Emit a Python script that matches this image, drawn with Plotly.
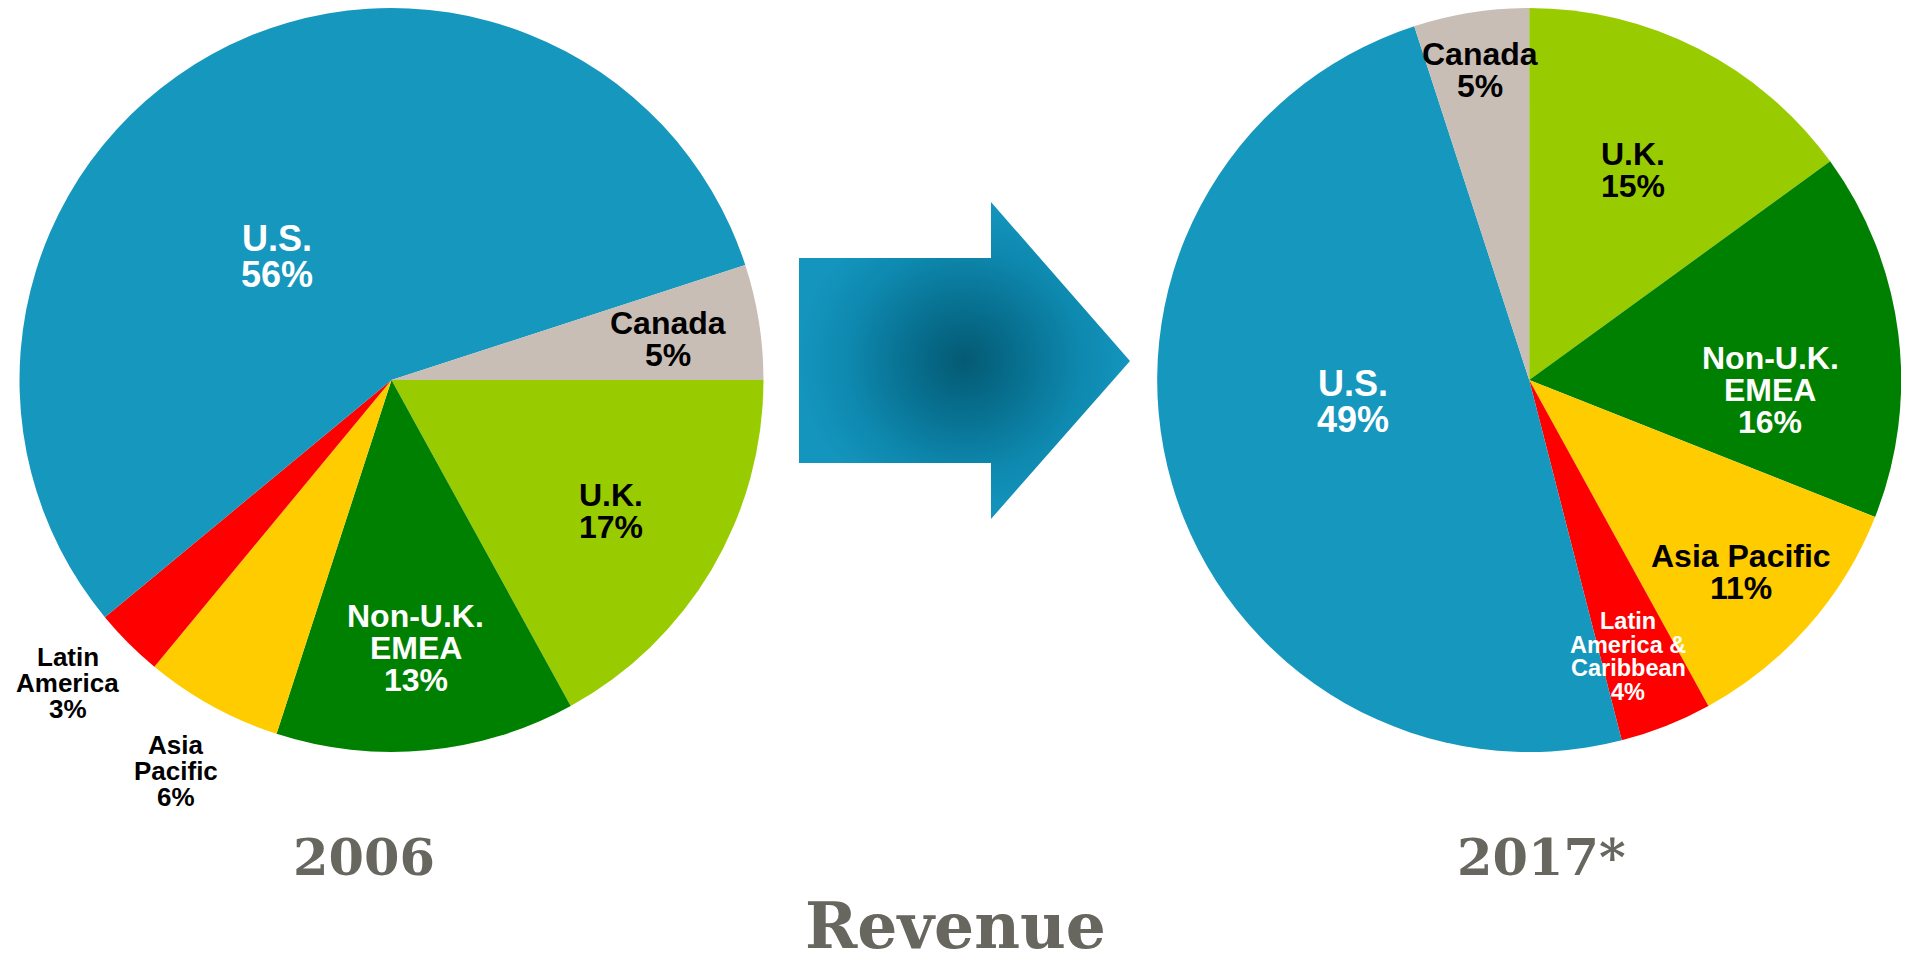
import math
import plotly.graph_objects as go

# ---------------- data ----------------
labels_2006 = ["U.K.", "Non-U.K.<br>EMEA", "Asia<br>Pacific", "Latin<br>America", "U.S.", "Canada"]
values_2006 = [17, 13, 6, 3, 56, 5]

labels_2017 = ["U.K.", "Non-U.K.<br>EMEA", "Asia Pacific", "Latin<br>America &<br>Caribbean", "U.S.", "Canada"]
values_2017 = [15, 16, 11, 4, 49, 5]

year_labels = ["2006", "2017*"]
chart_title = "Revenue"

# ---------------- styles ----------------
slice_colors = ["#99CC00", "#008000", "#FFCC00", "#FF0000", "#1597BE", "#C8BEB5"]
text_colors_2006 = ["black", "white", "black", "black", "white", "black"]
text_colors_2017 = ["black", "white", "black", "white", "white", "black"]
text_sizes_2006 = [32, 32, 26, 26, 36, 32]
text_sizes_2017 = [32, 32, 32, 23.5, 36, 32]
# label placement: fraction of radius, and angular nudge (deg) from the slice's mid-angle
label_r_2006 = [0.688, 0.722, 1.200, 1.192, 0.452, 0.751]
label_dt_2006 = [0.3, 0.2, 0.1, 1.9, -13.9, 0.6]
label_r_2017 = [0.629, 0.649, 0.770, 0.789, 0.478, 0.844]
label_dt_2017 = [-0.7, 9.6, 0.8, 1.9, 9.4, 0.0]

W, H = 1901, 950   # page body has an 8px margin inside the 1909x958 window
LABEL_FONT = "Liberation Sans, Arial, sans-serif"
SERIF = "DejaVu Serif, serif"
GREY = "#67665F"

dom_2006 = dict(x=[0.00605, 0.39742], y=[0.2168, 1.0])
dom_2017 = dict(x=[0.60452, 0.99590], y=[0.2168, 1.0])

fig = go.Figure()


def add_pie(labels, values, rotation, domain):
    fig.add_trace(go.Pie(
        labels=labels, values=values, sort=False, direction="clockwise",
        rotation=rotation, domain=domain,
        marker=dict(colors=slice_colors, line=dict(width=0)),
        textinfo="none", showlegend=False, hoverinfo="label+percent",
    ))


def label_annotations(labels, values, rotation, domain, rfr, dts, sizes, colors):
    anns = []
    cx = (domain["x"][0] + domain["x"][1]) / 2 * W
    cy = (1 - (domain["y"][0] + domain["y"][1]) / 2) * H
    R = min((domain["x"][1] - domain["x"][0]) * W, (domain["y"][1] - domain["y"][0]) * H) / 2
    total = sum(values)
    cum = 0
    for lab, v, rf, dt, sz, col in zip(labels, values, rfr, dts, sizes, colors):
        mid = (cum + v / 2) / total
        cum += v
        theta = math.radians(rotation - 90 + 360 * mid + dt)
        lx = cx + rf * R * math.cos(theta)
        ly = cy + rf * R * math.sin(theta)
        lines = lab.split("<br>") + [f"{round(100 * v / total)}%"]
        n = len(lines)
        step = sz * 1.0
        for i, line in enumerate(lines):
            anns.append(dict(
                text=f"<b>{line}</b>", x=lx, y=ly + (i - (n - 1) / 2) * step,
                xref="x", yref="y", showarrow=False, xanchor="center", yanchor="middle",
                font=dict(family=LABEL_FONT, size=sz, color=col),
            ))
    return anns


add_pie(labels_2006, values_2006, 90, dom_2006)
add_pie(labels_2017, values_2017, 0, dom_2017)

annotations = []
annotations += label_annotations(labels_2006, values_2006, 90, dom_2006, label_r_2006, label_dt_2006,
                                 text_sizes_2006, text_colors_2006)
annotations += label_annotations(labels_2017, values_2017, 0, dom_2017, label_r_2017, label_dt_2017,
                                 text_sizes_2017, text_colors_2017)

# ---------------- arrow (decorative, pixel space) ----------------
arrow_x = [791, 983, 983, 1122, 983, 983, 791, 791]
arrow_y = [250, 250, 194, 353, 511, 455, 455, 250]
fig.add_trace(go.Scatter(
    x=arrow_x, y=arrow_y, mode="lines", fill="toself",
    line=dict(width=0, color="rgba(0,0,0,0)"),
    fillgradient=dict(type="radial",
                      colorscale=[[0, "#045A73"], [0.3, "#076D8C"], [0.7, "#0E88AE"], [1, "#1495BE"]]),
    showlegend=False, hoverinfo="skip",
))

annotations += [
    dict(text=f"<b>{year_labels[0]}</b>", x=356, y=849, xref="x", yref="y",
         showarrow=False, font=dict(family=SERIF, size=51, color=GREY), xanchor="center", yanchor="middle"),
    dict(text=f"<b>{year_labels[1]}</b>", x=1533, y=849, xref="x", yref="y",
         showarrow=False, font=dict(family=SERIF, size=51, color=GREY), xanchor="center", yanchor="middle"),
    dict(text=f"<b>{chart_title}</b>", x=947, y=918, xref="x", yref="y",
         showarrow=False, font=dict(family=SERIF, size=63, color=GREY), xanchor="center", yanchor="middle"),
]

fig.update_layout(
    width=W, height=H,
    margin=dict(l=0, r=0, t=0, b=0),
    paper_bgcolor="white", plot_bgcolor="rgba(0,0,0,0)",
    xaxis=dict(range=[0, W], visible=False, fixedrange=True),
    yaxis=dict(range=[H, 0], visible=False, fixedrange=True),
    annotations=annotations,
)

fig.write_html("out.html")
